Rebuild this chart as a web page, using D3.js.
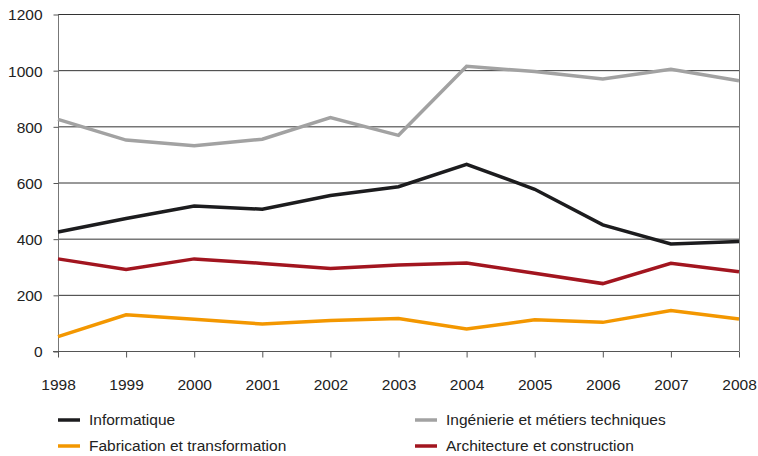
<!DOCTYPE html>
<html>
<head>
<meta charset="utf-8">
<script src="https://cdn.jsdelivr.net/npm/d3@7"></script>
<style>
  body { margin: 0; background: #fff; }
  text { font-family: "Liberation Sans", Arial, sans-serif; fill: #222; }
</style>
</head>
<body>
<svg id="chart" width="758" height="456"></svg>
<script>
// data
var years = [1998, 1999, 2000, 2001, 2002, 2003, 2004, 2005, 2006, 2007, 2008]
var informatique = [424, 472, 516, 505, 554, 585, 665, 576, 449, 381, 390]
var ingenierie = [825, 751, 731, 754, 831, 768, 1014, 995, 969, 1003, 962]
var fabrication = [51, 129, 113, 96, 109, 116, 78, 111, 102, 144, 114]
var architecture = [328, 290, 328, 312, 294, 306, 313, 277, 240, 312, 282]
var yTicks = [0, 200, 400, 600, 800, 1000, 1200]

var series = [
  {name: "Informatique", values: informatique, color: "#1c1c1e"},
  {name: "Ingénierie et métiers techniques", values: ingenierie, color: "#a2a2a2"},
  {name: "Fabrication et transformation", values: fabrication, color: "#f39700"},
  {name: "Architecture et construction", values: architecture, color: "#a2151f"}
]

var svg = d3.select("#chart")
var plotL = 58, plotR = 739, plotT = 14, plotB = 351

var x = d3.scaleLinear().domain([1998, 2008]).range([plotL, plotR])
var y = d3.scaleLinear().domain([0, 1200]).range([plotB, plotT])

// gridlines
svg.append("g").selectAll("line")
  .data(yTicks.filter(function(d) { return d > 0 }))
  .enter().append("line")
  .attr("x1", plotL).attr("x2", plotR)
  .attr("y1", function(d) { return y(d) + 0.5 })
  .attr("y2", function(d) { return y(d) + 0.5 })
  .attr("stroke", "#333").attr("stroke-width", 1)

// y axis
var yAxis = svg.append("g")
  .attr("transform", "translate(" + (plotL + 0.5) + ",0.5)")
  .call(d3.axisLeft(y).tickValues(yTicks).tickSize(5).tickPadding(11).tickFormat(d3.format("d")))
yAxis.select(".domain").attr("stroke", "#777").attr("d", "M0," + plotT + "V" + plotB)
yAxis.selectAll(".tick line").attr("stroke", "#555")
yAxis.selectAll("text").style("font-size", "15.5px").attr("dy", "0.35em")

// right border
svg.append("line")
  .attr("x1", plotR + 0.5).attr("x2", plotR + 0.5)
  .attr("y1", plotT).attr("y2", plotB)
  .attr("stroke", "#777")

// x axis
var xAxis = svg.append("g")
  .attr("transform", "translate(0," + (plotB + 0.5) + ")")
  .call(d3.axisBottom(x).tickValues(years).tickSize(6).tickPadding(21).tickFormat(d3.format("d")))
xAxis.select(".domain").attr("stroke", "#555").attr("d", "M" + (plotL - 5) + ",0H" + plotR)
xAxis.selectAll(".tick line").attr("stroke", "#555")
xAxis.selectAll("text").style("font-size", "15.5px")

// lines
var line = d3.line()
  .x(function(d, i) { return x(years[i]) })
  .y(function(d) { return y(d) })

svg.append("g").selectAll("path")
  .data(series)
  .enter().append("path")
  .attr("d", function(d) { return line(d.values) })
  .attr("fill", "none")
  .attr("stroke", function(d) { return d.color })
  .attr("stroke-width", 3.5)
  .attr("stroke-linejoin", "miter")

// legend
var legendPos = [[58, 420], [415, 420], [58, 446], [415, 446]]
var legend = svg.append("g").selectAll("g")
  .data(series)
  .enter().append("g")
  .attr("transform", function(d, i) { return "translate(" + legendPos[i][0] + "," + legendPos[i][1] + ")" })
legend.append("line")
  .attr("x1", 0).attr("x2", 22)
  .attr("stroke", function(d) { return d.color })
  .attr("stroke-width", 3.5)
legend.append("text")
  .attr("x", 31).attr("dy", "0.35em")
  .style("font-size", "15.5px")
  .text(function(d) { return d.name })
</script>
</body>
</html>
